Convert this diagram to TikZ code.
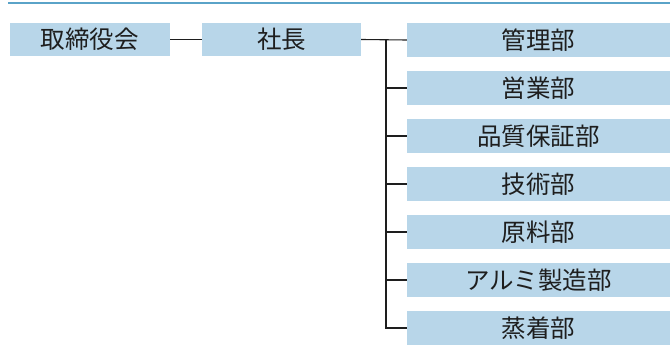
\documentclass[tikz,border=0pt]{standalone}
\usepackage{fontspec}
\newfontfamily\cjk{Noto Sans CJK JP}
\definecolor{boxblue}{HTML}{B8D6E9}
\definecolor{topblue}{HTML}{5AA3C8}
\definecolor{txt}{HTML}{1E1E1E}
\begin{document}
\begin{tikzpicture}[x=1pt,y=-1pt,
  orgbox/.style={fill=boxblue,draw=none,inner sep=0pt,font=\cjk\fontsize{24.5}{26}\selectfont,text=txt},
  conn/.style={draw=txt,line width=1.1pt}]
\useasboundingbox (0,0) rectangle (670,345);
\draw[topblue,line width=2pt] (8,3) -- (670,3);
\node[orgbox,minimum width=160pt,minimum height=33pt] (board) at (90,39.5) {取締役会};
\node[orgbox,minimum width=159pt,minimum height=33pt] (pres) at (281.5,39.5) {社長};
\foreach \i/\t in {0/管理部,1/営業部,2/品質保証部,3/技術部,4/原料部,5/アルミ製造部,6/蒸着部}{
  \node[orgbox,minimum width=263pt,minimum height=34pt] (d\i) at (538.5,{40+48*\i}) {\t};
}
\draw[conn] (board.east) -- (pres.west);
\coordinate (bus) at (386,40);
\draw[conn] (pres.east) -- (d0.west);
\draw[conn] (bus) -- (bus |- d6.west) -- (d6.west);
\foreach \i in {1,...,5}{
  \draw[conn] (bus |- d\i.west) -- (d\i.west);
}
\end{tikzpicture}
\end{document}
